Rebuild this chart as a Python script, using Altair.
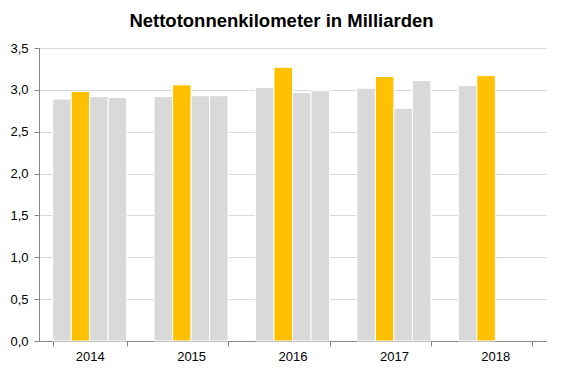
import altair as alt
import pandas as pd

years = ["2014", "2015", "2016", "2017", "2018"]
quarters = ["Q1", "Q2", "Q3", "Q4"]
values = {
    "2014": [2.89, 2.98, 2.92, 2.91],
    "2015": [2.92, 3.06, 2.93, 2.93],
    "2016": [3.03, 3.27, 2.97, 2.99],
    "2017": [3.02, 3.16, 2.78, 3.11],
    "2018": [3.05, 3.17],
}
bar_colors = ["#D9D9D9", "#FFC000", "#D9D9D9", "#D9D9D9"]
y_ticks = [0, 0.5, 1.0, 1.5, 2.0, 2.5, 3.0, 3.5]

rows = []
for y in years:
    for q, v in zip(quarters, values[y]):
        rows.append({"Jahr": y, "Quartal": q, "Wert": v})
df = pd.DataFrame(rows)

FONT = "Liberation Sans"

chart = alt.Chart(df).mark_bar(stroke="white", strokeWidth=1).encode(
    x=alt.X("Jahr:N", sort=years,
            scale=alt.Scale(paddingInner=0.27, paddingOuter=0.135),
            axis=alt.Axis(title=None, labelAngle=0, tickBand="extent",
                          domainColor="#868686", tickColor="#868686",
                          tickSize=5, labelPadding=4, labelFontSize=13,
                          labelFont=FONT, labelColor="#000000", grid=False)),
    xOffset=alt.XOffset("Quartal:N", scale=alt.Scale(domain=quarters, paddingInner=0, paddingOuter=0)),
    y=alt.Y("Wert:Q", scale=alt.Scale(domain=[0, 3.5], nice=False),
            axis=alt.Axis(title=None, values=y_ticks,
                          labelExpr="replace(format(datum.value, '.1f'), '.', ',')",
                          domainColor="#868686", tickColor="#868686", tickSize=5,
                          labelPadding=6, labelFontSize=13, labelFont=FONT,
                          labelColor="#000000", gridColor="#D9D9D9", gridWidth=1)),
    color=alt.Color("Quartal:N", scale=alt.Scale(domain=quarters, range=bar_colors), legend=None),
).properties(
    width=507,
    height=293,
    title=alt.TitleParams("Nettotonnenkilometer in Milliarden", font=FONT, fontSize=18.5,
                          fontWeight="bold", color="#000000", anchor="middle",
                          offset=12, dx=-11),
    autosize=alt.AutoSizeParams(type="none"),
    padding={"left": 31, "top": 40, "right": 8, "bottom": 24},
).configure_view(strokeWidth=0)

chart.save("out.html", embed_options={"renderer": "svg", "actions": False})
